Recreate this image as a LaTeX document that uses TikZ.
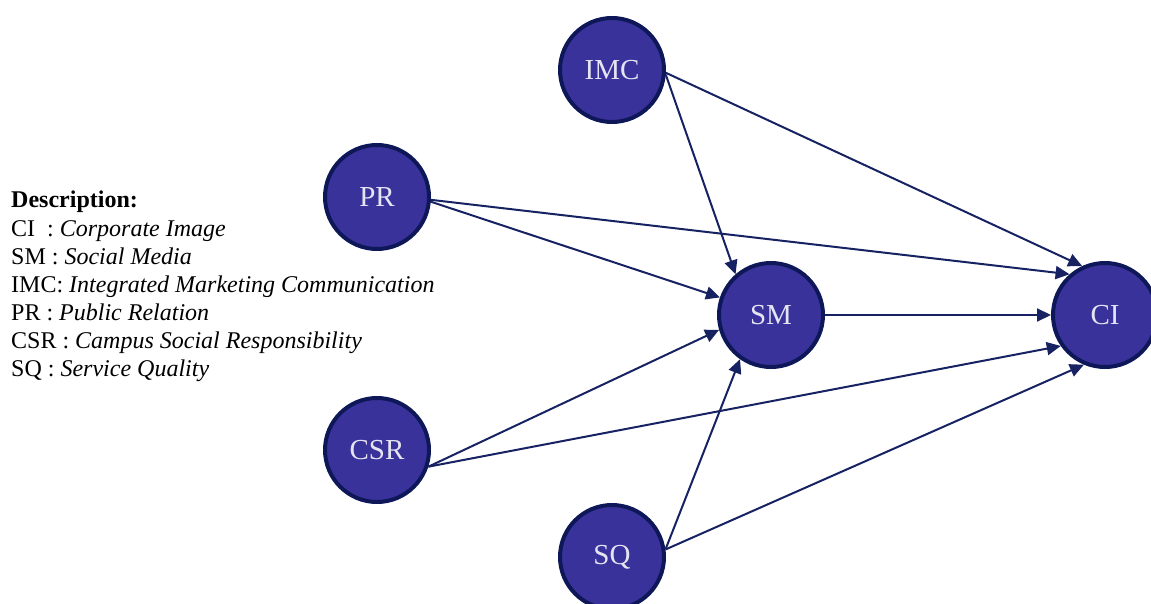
\documentclass[tikz,border=0pt]{standalone}
\usepackage{fontspec}
\setmainfont{Liberation Serif}
\usetikzlibrary{arrows.meta}

\definecolor{factorfill}{RGB}{58,50,155}
\definecolor{factorline}{RGB}{14,24,88}
\definecolor{factortext}{RGB}{228,228,242}
\definecolor{effectcol}{RGB}{22,34,98}

\tikzstyle{factor} = [draw=factorline, fill=factorfill, circle, line width=4pt,
                      minimum size=104pt, inner sep=0pt, text=factortext,
                      font=\fontsize{29}{30}\selectfont]
\tikzstyle{effect} = [-{Triangle[length=14pt,width=13pt]}, draw=effectcol, line width=2pt]

\begin{document}
\begin{tikzpicture} [auto, node distance=100pt]

\useasboundingbox (0pt,0pt) rectangle (1151pt,-604pt);

\node[factor]
      at (771pt,-315pt)
      (SM) {SM};

\node[factor,
      right of=SM,node distance=334pt]
      (CI) {CI};

\node[factor,
      above of=SM,node distance=245pt,xshift=-159pt]
      (IMC) {IMC};

\node[factor,
      below of=SM,node distance=242pt,xshift=-159pt]
      (SQ) {SQ};

\node[factor,
      left of=SM,node distance=394pt,yshift=118pt]
      (PR) {PR};

\node[factor,
      left of=SM,node distance=394pt,yshift=-135pt]
      (CSR) {CSR};

% legend
\node[anchor=north west,align=left,inner sep=0pt,
      font=\fontsize{24}{28}\selectfont]
      at (11pt,-191pt)
      (desc) {\textbf{Description:}\\[1pt]
              CI\ \ : \textit{Corporate Image}\\
              SM : \textit{Social Media}\\
              IMC: \textit{Integrated Marketing Communication}\\
              PR : \textit{Public Relation}\\
              CSR : \textit{Campus Social Responsibility}\\
              SQ : \textit{Service Quality}};

\draw[effect]
     (IMC.-3) -- (CI.115);

\draw[effect]
     (IMC.-5) -- (SM.131);

\draw[effect]
     (PR.-3) -- (CI.131);

\draw[effect]
     (PR.-5) -- (SM.161);

\draw[effect]
     (SM.east) -- (CI.west);

\draw[effect]
     (CSR.-18) -- (SM.196);

\draw[effect]
     (CSR.-18) -- (CI.215);

\draw[effect]
     (SQ.8) -- (SM.235);

\draw[effect]
     (SQ.8) -- (CI.247);

\end{tikzpicture}
\end{document}
